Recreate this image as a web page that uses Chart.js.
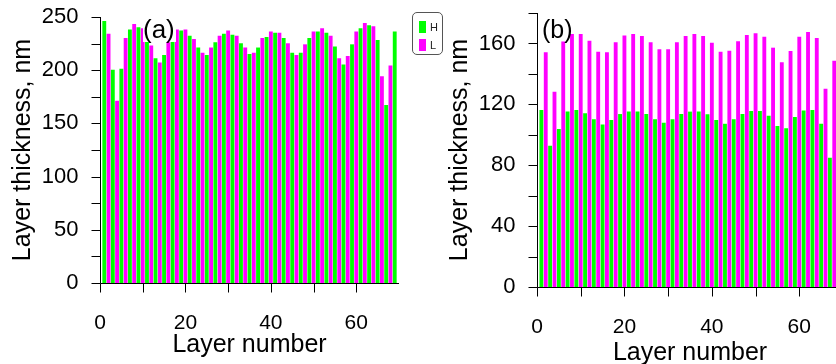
<!DOCTYPE html>
<html>
<head>
<meta charset="utf-8">
<script src="https://cdn.jsdelivr.net/npm/chart.js@4/dist/chart.umd.min.js"></script>
<style>
  html, body { margin: 0; padding: 0; width: 836px; height: 364px; overflow: hidden; background: #fff; }
  .wrap { position: absolute; top: 0; }
  #wrapA { left: 0; }
  #wrapB { left: 430px; }
  .tag { position: absolute; font-family: "Liberation Sans", Arial, sans-serif; color: #000; line-height: 1; }
  #tagA { left: 143px; top: 16px; font-size: 26px; background: #fff; padding-right: 1px; }
  #tagB { left: 542px; top: 17px; font-size: 25px; }
  #legend { position: absolute; left: 412px; top: 12px; width: 29px; height: 41px; border: 1px solid #555; border-radius: 5px; }
  .row { display: flex; align-items: center; height: 18px; margin-left: 6px; }
  .row:first-child { margin-top: 5px; }
  .sw { width: 7px; height: 12px; }
  .lb { font-family: "Liberation Sans", Arial, sans-serif; font-size: 11px; margin-left: 4px; color: #222; }
</style>
</head>
<body>
<div class="wrap" id="wrapA"><canvas id="chartA" width="399" height="364"></canvas></div>
<div class="wrap" id="wrapB"><canvas id="chartB" width="413" height="368"></canvas></div>
<div class="tag" id="tagA">(a)</div>
<div class="tag" id="tagB">(b)</div>
<div id="legend"></div>
<script>
const FONT = '"Liberation Sans", Arial, sans-serif';
const GREEN = '#00ff00';
const MAGENTA = '#ff00ff';
const SERIES = ['H', 'L'];
const TICK_LEN = 9;

// panel (a): layer numbers and thickness (nm)
const aLayersH = [1, 3, 5, 7, 9, 11, 13, 15, 17, 19, 21, 23, 25, 27, 29, 31, 33, 35, 37, 39, 41, 43, 45, 47, 49, 51, 53, 55, 57, 59, 61, 63, 65, 67, 69];
const aThickH = [246, 200, 201, 238, 240, 228, 211, 214, 230, 237, 232, 221, 214, 226, 234, 233, 225, 215, 221, 231, 235, 230, 216, 216, 230, 236, 235, 222, 205, 224, 239, 242, 228, 167, 236];
const aLayersL = [2, 4, 6, 8, 10, 12, 14, 16, 18, 20, 22, 24, 26, 28, 30, 32, 34, 36, 38, 40, 42, 44, 46, 48, 50, 52, 54, 56, 58, 60, 62, 64, 66, 68];
const aThickL = [234, 171, 230, 243, 239, 223, 207, 226, 238, 238, 229, 216, 221, 232, 237, 232, 221, 216, 230, 236, 235, 225, 214, 224, 236, 239, 232, 211, 213, 236, 244, 241, 194, 204];

// panel (b)
const bLayersH = [1, 3, 5, 7, 9, 11, 13, 15, 17, 19, 21, 23, 25, 27, 29, 31, 33, 35, 37, 39, 41, 43, 45, 47, 49, 51, 53, 55, 57, 59, 61, 63, 65, 67];
const bThickH = [116, 92.6, 103.6, 115, 116, 114, 110, 106.6, 109.5, 113.4, 115, 115, 113.4, 110, 107.7, 110, 113.4, 115, 115, 113.2, 109.5, 107, 110, 113.4, 115.4, 115.4, 112.3, 105.5, 104, 111.5, 115.8, 116, 107, 84.7];
const bLayersL = [2, 4, 6, 8, 10, 12, 14, 16, 18, 20, 22, 24, 26, 28, 30, 32, 34, 36, 38, 40, 42, 44, 46, 48, 50, 52, 54, 56, 58, 60, 62, 64, 66, 68];
const bThickL = [154, 128, 161, 166, 166, 161.6, 154.4, 154, 160.5, 165, 166, 164.7, 160.5, 156, 156, 160.5, 164.7, 166, 164.7, 160.3, 154.4, 155, 161.2, 165.3, 166.4, 164.2, 157, 147.4, 154.8, 164.2, 167.3, 163.3, 130, 148.4];

// tick labels
const xLabels = [0, 20, 40, 60];
const aYLabels = [0, 50, 100, 150, 200, 250];
const bYLabels = [0, 40, 80, 120, 160];

// axis lines, outward tick marks and labels, drawn from the chart's own scales
const axisMarks = {
  id: 'axisMarks',
  afterDraw(chart, args, opts) {
    const { ctx, chartArea: area, scales: { x, y } } = chart;
    ctx.save();
    ctx.strokeStyle = '#000';
    ctx.fillStyle = '#000';
    ctx.lineWidth = 1;
    ctx.beginPath();
    const ax = Math.round(area.left) + 0.5;
    const ay = Math.round(area.bottom) + 0.5;
    ctx.moveTo(ax, area.top);
    ctx.lineTo(ax, ay);
    ctx.lineTo(area.right, ay);
    x.ticks.forEach(t => {
      const px = Math.round(x.getPixelForValue(t.value)) + 0.5;
      ctx.moveTo(px, ay);
      ctx.lineTo(px, ay + TICK_LEN);
    });
    y.ticks.forEach(t => {
      const py = Math.round(y.getPixelForValue(t.value)) + 0.5;
      ctx.moveTo(ax, py);
      ctx.lineTo(ax - TICK_LEN, py);
    });
    ctx.stroke();

    ctx.font = '21px ' + FONT;
    ctx.textAlign = 'center';
    ctx.textBaseline = 'alphabetic';
    x.ticks.forEach(t => {
      if (opts.xLabels.includes(t.value)) ctx.fillText(String(t.value), x.getPixelForValue(t.value), ay + 45);
    });
    ctx.font = '22px ' + FONT;
    ctx.textAlign = 'right';
    ctx.textBaseline = 'middle';
    y.ticks.forEach(t => {
      if (opts.yLabels.includes(t.value)) ctx.fillText(String(t.value), ax - 22, y.getPixelForValue(t.value));
    });
    ctx.restore();
  }
};

function barSet(label, xs, ys, color) {
  return {
    label: label,
    data: xs.map((x, i) => ({ x: x, y: ys[i] })),
    backgroundColor: color,
    borderWidth: 0,
    barThickness: 3.2,
    grouped: false
  };
}

function makeChart(id, sets, yMax, yStep, yLabels, p) {
  return new Chart(document.getElementById(id), {
    type: 'bar',
    data: { datasets: sets },
    plugins: [axisMarks],
    options: {
      responsive: false,
      animation: false,
      layout: { padding: { top: p.top, right: 0, bottom: 0, left: 0 } },
      plugins: {
        legend: { display: false },
        tooltip: { enabled: false },
        axisMarks: { xLabels: xLabels, yLabels: yLabels }
      },
      scales: {
        x: {
          type: 'linear', min: 0, max: 70, offset: false,
          grid: { display: false, offset: false },
          border: { display: false },
          ticks: { display: false, stepSize: 10, autoSkip: false },
          title: { display: true, text: 'Layer number', color: '#000', font: { family: FONT, size: 25 }, padding: { top: 0, bottom: p.xTitle } },
          afterFit: s => { s.height = p.xHeight; }
        },
        y: {
          min: 0, max: yMax,
          grid: { display: false },
          border: { display: false },
          ticks: { display: false, stepSize: yStep, autoSkip: false },
          title: { display: true, text: 'Layer thickness, nm', color: '#000', font: { family: FONT, size: 25 }, padding: { top: p.yTitle, bottom: 0 } },
          afterFit: s => { s.width = p.yWidth; }
        }
      }
    }
  });
}

makeChart('chartA',
  [barSet(SERIES[0], aLayersH, aThickH, GREEN), barSet(SERIES[1], aLayersL, aThickL, MAGENTA)],
  250, 25, aYLabels,
  { top: 17, xHeight: 81, xTitle: 4, yWidth: 100, yTitle: 8 });

makeChart('chartB',
  [barSet(SERIES[0], bLayersH, bThickH, GREEN), barSet(SERIES[1], bLayersL, bThickL, MAGENTA)],
  180, 20, bYLabels,
  { top: 13, xHeight: 81, xTitle: 0, yWidth: 107, yTitle: 15 });

// legend box between the panels
const legend = document.getElementById('legend');
[[SERIES[0], GREEN], [SERIES[1], MAGENTA]].forEach(([name, color]) => {
  const row = document.createElement('div');
  row.className = 'row';
  row.innerHTML = '<div class="sw" style="background:' + color + '"></div><span class="lb">' + name + '</span>';
  legend.appendChild(row);
});
</script>
</body>
</html>
